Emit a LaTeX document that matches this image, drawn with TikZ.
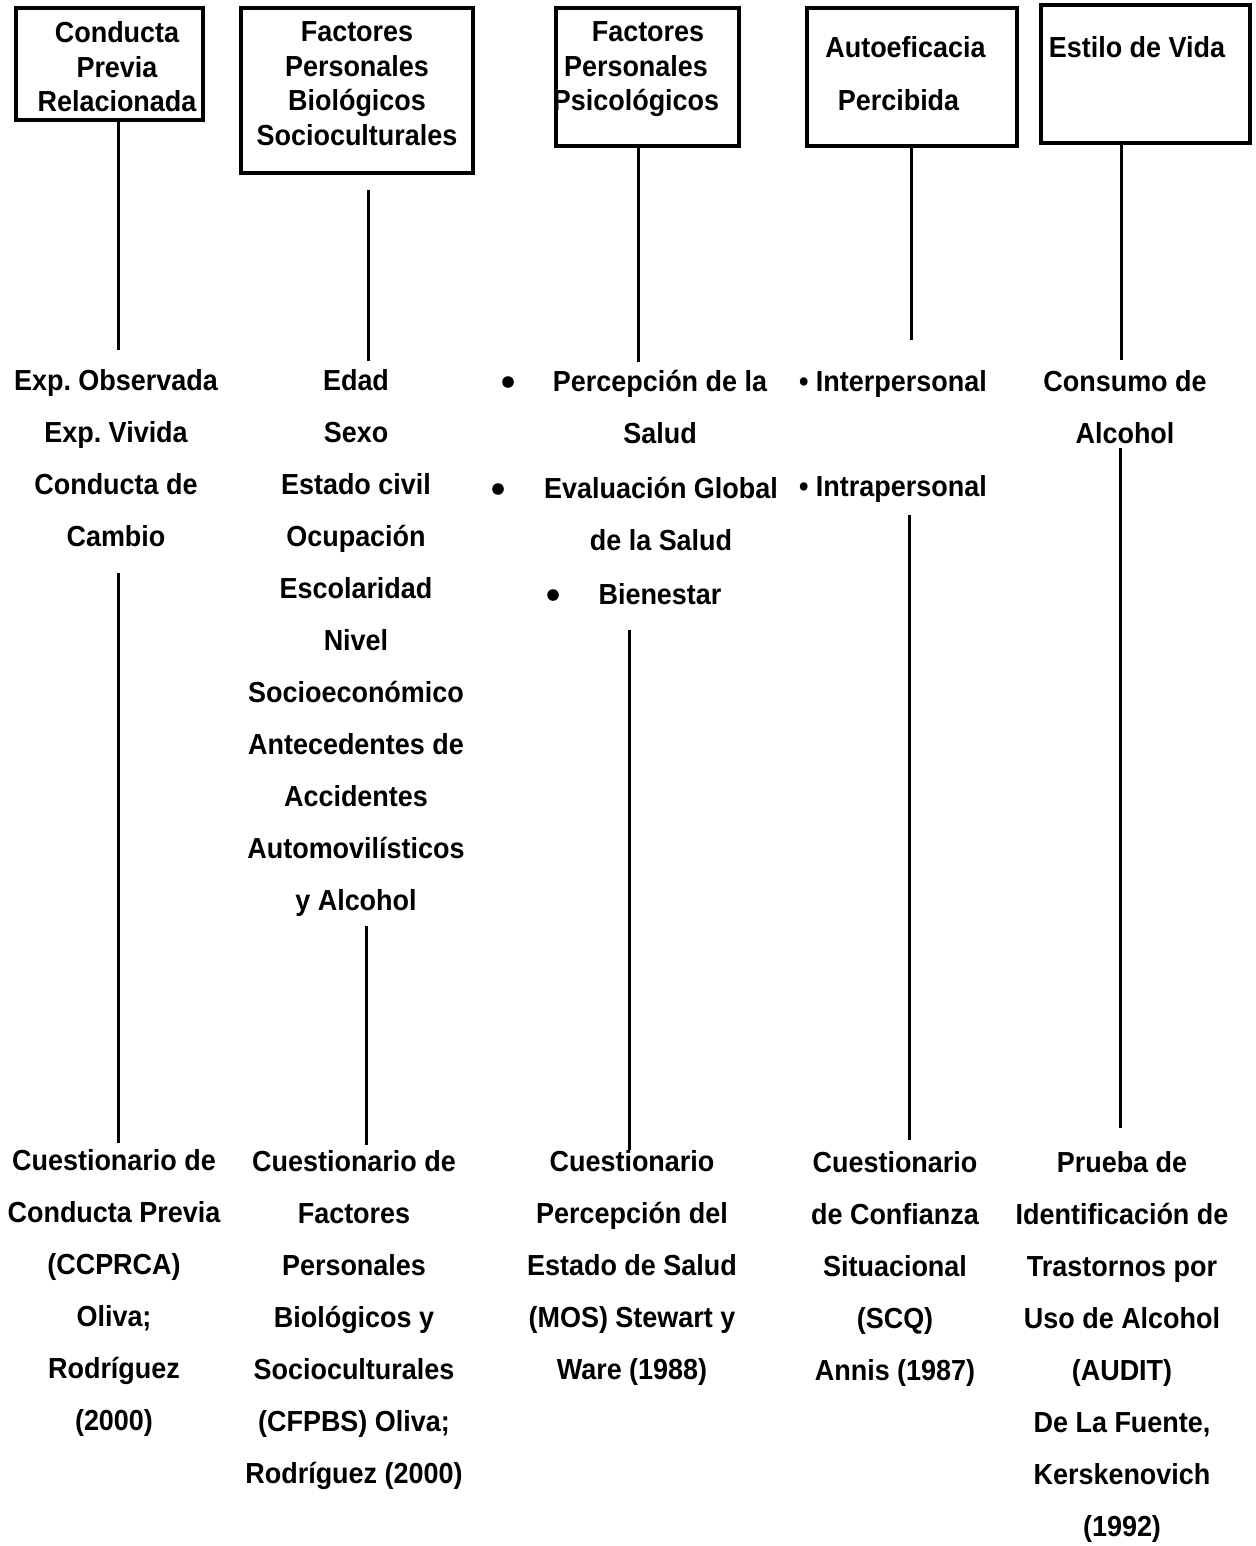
\documentclass[tikz,border=0pt]{standalone}
\usepackage{fontspec}
\setmainfont{Liberation Sans}[FakeStretch=0.93]
\newcommand{\mystrut}{\rule{0pt}{12pt}}
\frenchspacing
\begin{document}
\begin{tikzpicture}[x=0.5pt,y=-0.5pt,
  every node/.style={inner sep=0pt, outer sep=0pt},
  txt/.style={font=\fontsize{14.5pt}{26pt}\selectfont\bfseries, align=center, anchor=north},
  btxt/.style={font=\fontsize{14.5pt}{17.25pt}\selectfont\bfseries, align=center, anchor=north},
  frame/.style={draw, line width=1.6pt},
  link/.style={line width=1.5pt},
  dot/.style={circle, fill, minimum size=5.8pt}]
\useasboundingbox[fill=white] (0,0) rectangle (1255,1546);

% boxes
\node[frame, minimum width=93.5pt, minimum height=56pt] (b1) at (109.5,64) {};
\node[frame, minimum width=116pt, minimum height=82.5pt] (b2) at (357,90.5) {};
\node[frame, minimum width=91.5pt, minimum height=69pt] (b3) at (647.5,77) {};
\node[frame, minimum width=105pt, minimum height=69pt] (b4) at (912,77) {};
\node[frame, line width=2pt, minimum width=104.5pt, minimum height=69pt] (b5) at (1145.5,74) {};

% box texts
\node[btxt] (t1) at (117,19) {\mystrut Conducta\\Previa\\Relacionada};
\node[btxt] (t2) at (357,18) {\mystrut Factores\\Personales\\Biológicos\\Socioculturales};
\node[btxt] (t3) at (636,18) {\mystrut\hspace*{12pt}Factores\\Personales\\Psicológicos};
\node[txt, font=\fontsize{14.5pt}{26.5pt}\selectfont\bfseries] (t4) at (905.5,34) {\mystrut Autoeficacia\\Percibida\hspace*{7pt}};
\node[txt] (t5) at (1137,34) {\mystrut Estilo de Vida};

% middle texts
\node[txt] (m1) at (116,366) {\mystrut Exp. Observada\\Exp. Vivida\\Conducta de\\Cambio};
\node[txt] (m2) at (356,366) {\mystrut Edad\\Sexo\\Estado civil\\Ocupación\\Escolaridad\\Nivel\\Socioeconómico\\Antecedentes de\\Accidentes\\Automovilísticos\\y Alcohol};
\node[txt] (m3a) at (660,367) {\mystrut Percepción de la\\Salud};
\node[txt] (m3b) at (661,474) {\mystrut Evaluación Global\\de la Salud};
\node[txt] (m3c) at (660,580) {\mystrut Bienestar};
\node[dot] (d1) at (508,382) {};
\node[dot] (d2) at (498,489) {};
\node[dot] (d3) at (553,595) {};
\node[txt, anchor=north west] (m4a) at (799,367) {\mystrut • Interpersonal};
\node[txt, anchor=north west] (m4b) at (799,472) {\mystrut • Intrapersonal};
\node[txt] (m5) at (1125,367) {\mystrut Consumo de\\Alcohol};

% bottom texts
\node[txt] (q1) at (114,1146) {\mystrut Cuestionario de\\Conducta Previa\\(CCPRCA)\\Oliva;\\Rodríguez\\(2000)};
\node[txt] (q2) at (354,1147) {\mystrut Cuestionario de\\Factores\\Personales\\Biológicos y\\Socioculturales\\(CFPBS) Oliva;\\Rodríguez (2000)};
\node[txt] (q3) at (632,1147) {\mystrut Cuestionario\\Percepción del\\Estado de Salud\\(MOS) Stewart y\\Ware (1988)};
\node[txt] (q4) at (895,1148) {\mystrut Cuestionario\\de Confianza\\Situacional\\(SCQ)\\Annis (1987)};
\node[txt] (q5) at (1122,1148) {\mystrut Prueba de\\Identificación de\\Trastornos por\\Uso de Alcohol\\(AUDIT)\\De La Fuente,\\Kerskenovich\\(1992)};

% connector ends
\coordinate (u1) at (118,350);
\coordinate (v1a) at (118,573);  \coordinate (v1b) at (118,1143);
\coordinate (u2a) at (368,190);  \coordinate (u2b) at (368,361);
\coordinate (v2a) at (366,926);  \coordinate (v2b) at (366,1145);
\coordinate (u3) at (638,362);
\coordinate (v3a) at (629,630);  \coordinate (v3b) at (629,1150);
\coordinate (u4) at (911,340);
\coordinate (v4a) at (909,515);  \coordinate (v4b) at (909,1140);
\coordinate (u5) at (1121,360);
\coordinate (v5a) at (1120,448); \coordinate (v5b) at (1120,1128);

% connectors
\draw[link] (b1.south -| u1) -- (u1);
\draw[link] (v1a) -- (v1b);
\draw[link] (u2a) -- (u2b);
\draw[link] (v2a) -- (v2b);
\draw[link] (b3.south -| u3) -- (u3);
\draw[link] (v3a) -- (v3b);
\draw[link] (b4.south -| u4) -- (u4);
\draw[link] (v4a) -- (v4b);
\draw[link] (b5.south -| u5) -- (u5);
\draw[link] (v5a) -- (v5b);
\end{tikzpicture}
\end{document}
